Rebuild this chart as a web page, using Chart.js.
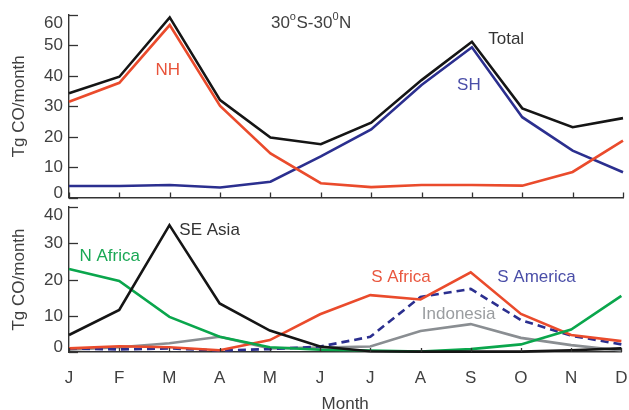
<!DOCTYPE html>
<html><head><meta charset="utf-8">
<script src="https://cdn.jsdelivr.net/npm/chart.js@4/dist/chart.umd.min.js"></script>
<style>
html,body{margin:0;padding:0;background:#fff;overflow:hidden;width:629px;height:410px;}
#c1{position:absolute;left:0;top:0;}
#c2{position:absolute;left:0;top:190px;}
</style></head><body>
<canvas id="c1" width="629" height="215"></canvas>
<canvas id="c2" width="629" height="220"></canvas>
<script>
// ---- data ----
const months = ['J','F','M','A','M','J','J','A','S','O','N','D'];
const total    = [34.3,39.7,59.2,32.0,19.7,17.5,24.6,38.6,51.2,29.3,23.1,26.1];
const nh       = [31.5,37.7,56.7,30.1,14.5,4.7,3.4,4.1,4.1,3.9,8.4,18.7];
const sh       = [3.8,3.8,4.1,3.3,5.2,13.5,22.4,37.0,49.4,26.4,15.4,8.3];
const seAsia   = [4.7,11.6,35.0,13.4,5.9,1.5,0.2,0.1,0.1,0.1,0.5,1.0];
const nAfrica  = [22.9,19.6,9.7,4.2,1.3,0.6,0.4,0.1,0.8,2.1,6.2,15.5];
const sAfrica  = [1.0,1.6,1.3,0.5,3.3,10.4,15.7,14.5,22.0,10.5,4.7,3.0];
const sAmerica = [1.0,0.7,1.0,0.4,0.8,1.5,4.2,15.2,17.4,8.8,4.5,2.1];
const indonesia= [0.6,1.3,2.4,4.2,1.0,1.2,1.5,5.8,7.7,3.9,1.9,0.4];
const topTicks = [0,10,20,30,40,50,60];
const bottomTicks = [0,10,20,30,40];
const yTitle = 'Tg CO/month';
const xTitle = 'Month';
// labels placed in data coordinates [text, monthIndex, value, color, align]
const topLabels = [
  ['NH', 1.96, 41.9, '#e8533a', 'center'],
  ['Total', 8.68, 52.1, '#333333', 'center'],
  ['SH', 7.94, 37.0, '#4a4ea8', 'center']
];
const bottomLabels = [
  ['SE Asia', 2.80, 33.6, '#333333', 'center'],
  ['N Africa', 0.81, 26.4, '#1aa855', 'center'],
  ['S Africa', 6.61, 20.7, '#e9573f', 'center'],
  ['S America', 9.31, 20.7, '#4a4ea8', 'center'],
  ['Indonesia', 7.76, 10.5, '#9a9da0', 'center']
];
const regionTitle = [['30',0],['o',1],['S-30',0],['0',1],['N',0]];
const regionPos = [4.01, 57.2];

// ---- styles ----
const FONT = "'Liberation Sans', Arial, Helvetica, sans-serif";
const TXT = '#404040';
const AX = '#333333';
const RED = '#ea4b2c', BLUE = '#2b2f8f', GREEN = '#0aa64c', GRAY = '#8a8e92', BLACK = '#151515';

function line(label, data, color, extra) {
  return Object.assign({label, data, borderColor: color, backgroundColor: color,
    borderWidth: 2.6, pointRadius: 0, tension: 0, fill: false, clip: false}, extra || {});
}

const decor = {
  id: 'decor',
  afterDraw(chart, args, opts) {
    const ctx = chart.ctx, x = chart.scales.x, y = chart.scales.y, ca = chart.chartArea;
    ctx.save();
    ctx.strokeStyle = AX; ctx.lineWidth = 1.3;
    // inward y ticks + tick labels
    ctx.font = '17px ' + FONT; ctx.fillStyle = TXT; ctx.textAlign = 'right'; ctx.textBaseline = 'middle';
    const n = y.ticks.length;
    y.ticks.forEach((t, i) => {
      const py = Math.round(y.getPixelForValue(t.value)) + 0.5;
      ctx.beginPath(); ctx.moveTo(ca.left, py); ctx.lineTo(ca.left + 9, py); ctx.stroke();
      const shift = i === n - 1 ? 8 : (i === 0 ? -5 : 0);
      ctx.fillText(String(t.value), ca.left - 6, py + shift);
    });
    // inward x ticks
    months.forEach((m, i) => {
      const px = Math.round(x.getPixelForValue(i)) + 0.5;
      ctx.beginPath(); ctx.moveTo(px, ca.bottom); ctx.lineTo(px, ca.bottom - opts.xTick); ctx.stroke();
    });
    ctx.textBaseline = 'middle';
    opts.labels.forEach(l => {
      ctx.font = '17px ' + FONT;
      ctx.fillStyle = l[3]; ctx.textAlign = l[4];
      ctx.fillText(l[0], x.getPixelForValue(l[1]), y.getPixelForValue(l[2]));
    });
    if (opts.region) {
      let px = x.getPixelForValue(regionPos[0]);
      const py = y.getPixelForValue(regionPos[1]);
      ctx.textAlign = 'left'; ctx.fillStyle = TXT;
      opts.region.forEach(p => {
        if (p[1]) { ctx.font = '11px ' + FONT; ctx.fillText(p[0], px, py - 7); }
        else { ctx.font = '17px ' + FONT; ctx.fillText(p[0], px, py); }
        px += ctx.measureText(p[0]).width + (p[1] ? 0.5 : 0);
      });
    }
    ctx.restore();
  }
};

function yScale(max, ticksArr) {
  return {
    min: 0, max: max,
    afterBuildTicks: s => { s.ticks = ticksArr.map(v => ({value: v})); },
    afterFit: s => { s.width = 69; },
    grid: {display: false, drawTicks: false},
    border: {display: true, color: AX, width: 1.4},
    ticks: {display: false, color: TXT, padding: 6, font: {family: FONT, size: 17}},
    title: {display: true, text: yTitle, color: TXT, font: {family: FONT, size: 17}, padding: {top: 9, bottom: 0}}
  };
}

const common = {
  responsive: false, animation: false, devicePixelRatio: 1,
  plugins: {legend: {display: false}, tooltip: {enabled: false}},
  elements: {line: {borderJoinStyle: 'miter', borderCapStyle: 'butt'}}
};

new Chart(document.getElementById('c1'), {
  type: 'line',
  data: {labels: months, datasets: [
    line('Total', total, BLACK),
    line('NH', nh, RED),
    line('SH', sh, BLUE)
  ]},
  options: Object.assign({}, common, {
    layout: {padding: {left: 0, right: 6, top: 15, bottom: 0}},
    plugins: Object.assign({}, common.plugins, {decor: {labels: topLabels, region: regionTitle, xTick: 5}}),
    scales: {
      x: {
        afterFit: s => { s.height = 17.5; },
        grid: {display: false, drawTicks: false},
        border: {display: true, color: AX, width: 1.4},
        ticks: {display: false}
      },
      y: yScale(60, topTicks)
    }
  }),
  plugins: [decor]
});

new Chart(document.getElementById('c2'), {
  type: 'line',
  data: {labels: months, datasets: [
    line('SE Asia', seAsia, BLACK),
    line('N Africa', nAfrica, GREEN),
    line('S Africa', sAfrica, RED),
    line('S America', sAmerica, BLUE, {borderDash: [8, 5]}),
    line('Indonesia', indonesia, GRAY)
  ]},
  options: Object.assign({}, common, {
    layout: {padding: {left: 0, right: 6, top: 17, bottom: 0}},
    plugins: Object.assign({}, common.plugins, {decor: {labels: bottomLabels, region: null, xTick: 4}}),
    scales: {
      x: {
        afterFit: s => { s.height = 58; },
        grid: {display: false, drawTicks: true, tickLength: 15},
        border: {display: true, color: AX, width: 1.4},
        ticks: {color: TXT, padding: 1.5, maxRotation: 0, autoSkip: false, font: {family: FONT, size: 17}},
        title: {display: true, text: xTitle, color: TXT, font: {family: FONT, size: 17, lineHeight: 1}, padding: {top: 0, bottom: -3}}
      },
      y: yScale(40, bottomTicks)
    }
  }),
  plugins: [decor]
});
</script>
</body></html>
